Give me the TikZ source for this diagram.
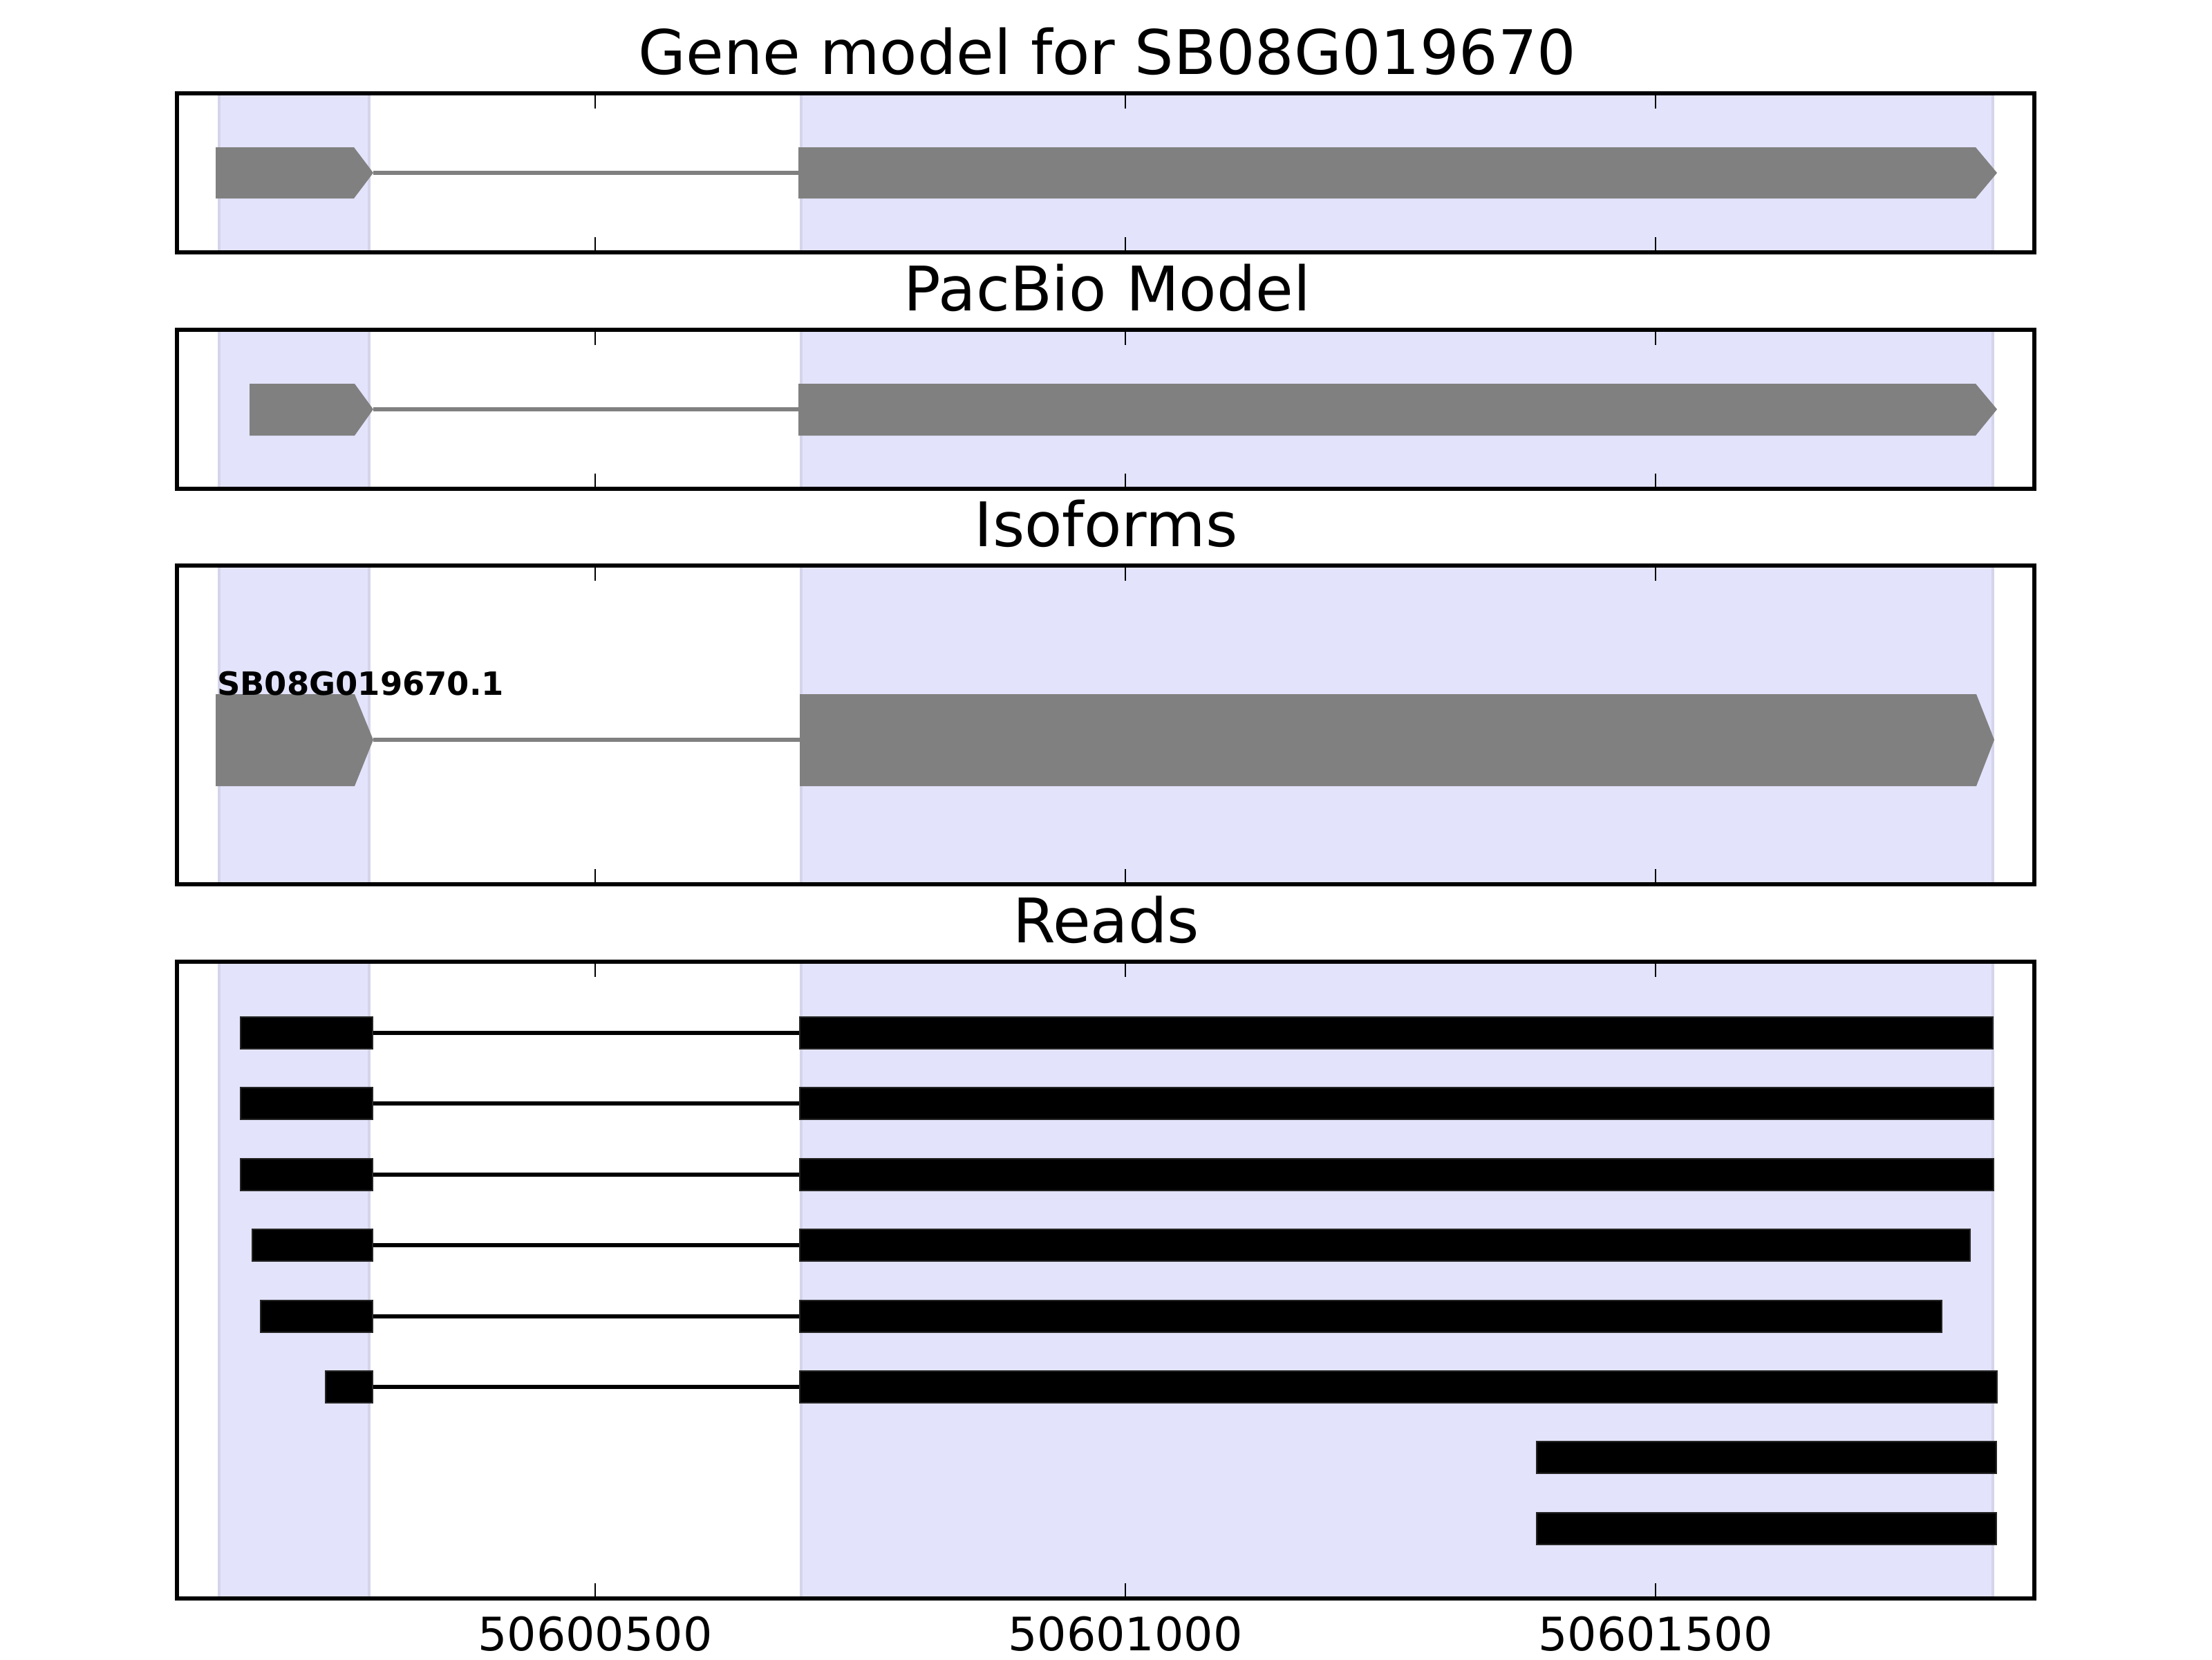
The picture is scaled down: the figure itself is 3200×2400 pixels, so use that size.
\documentclass[tikz,border=0pt]{standalone}
\usepackage{fontspec}
\setmainfont{DejaVu Sans}
\definecolor{bandcol}{RGB}{227,227,252}
\definecolor{bandedge}{RGB}{212,212,234}
\definecolor{genegray}{RGB}{128,128,128}
\newcommand\geneexon[6]{% x1, xflat, xtip, ytop, ybot, ymid
  \fill[exon] (#1,#4) -- (#2,#4) -- (#3,#6) -- (#2,#5) -- (#1,#5) -- cycle;}
\begin{document}
\begin{tikzpicture}[x=0.18pt,y=-0.18pt,
  frame/.style={draw=black,line width=1pt},
  bandfill/.style={fill=bandcol,draw=bandedge,line width=0.6pt},
  exon/.style={fill=genegray},
  intron/.style={draw=genegray,line width=1pt},
  readbar/.style={fill=black,draw=black!85,line width=0.3pt},
  readline/.style={draw=black,line width=1pt},
  tickmark/.style={draw=black,line width=0.5pt},
  paneltitle/.style={anchor=base,inner sep=0pt,font=\fontsize{16}{19}\selectfont},
  ticklabel/.style={anchor=base,inner sep=0pt,font=\fontsize{12}{14}\selectfont},
  isolabel/.style={anchor=base west,inner sep=0pt,font=\fontsize{8.35}{10}\selectfont\bfseries}]
\useasboundingbox[fill=white] (0,0) rectangle (3200,2400);

% shaded exon bands in every panel
\foreach \t/\b in {135/365, 477/707, 818/1279, 1391/2312}{
  \path[bandfill] (317,\t) rectangle (534,\b);
  \path[bandfill] (1159,\t) rectangle (2883,\b);
}

% panel 1: gene model
\draw[intron] (540,250) -- (1155,250);
\geneexon{312}{512}{540}{213}{287}{250}
\geneexon{1155}{2858}{2889}{213}{287}{250}

% panel 2: PacBio model
\draw[intron] (540,592) -- (1155,592);
\geneexon{361}{513}{540}{555}{630}{592}
\geneexon{1155}{2858}{2889}{555}{630}{592}

% panel 3: isoforms
\draw[intron] (540,1070) -- (1157,1070);
\geneexon{312}{513}{540}{1004}{1137}{1070}
\geneexon{1157}{2859}{2885}{1004}{1137}{1070}
\node[isolabel] (iso1) at (313,1005) {SB08G019670.1};

% panel 4: reads
\foreach \y/\s/\e in {1494/348/2883, 1596/348/2884, 1699/348/2884, 1801/365/2850, 1904/377/2809, 2006/471/2889}{
  \draw[readline] (539,\y) -- (1157,\y);
  \path[readbar] (\s,\y-23) rectangle (539,\y+23);
  \path[readbar] (1157,\y-23) rectangle (\e,\y+23);
}
\foreach \y in {2108, 2211}{
  \path[readbar] (2223,\y-23) rectangle (2888,\y+23);
}

% frames and ticks
\foreach \t/\b in {135/365, 477/707, 818/1279, 1391/2312}{
  \foreach \x in {861,1628,2395}{
    \draw[tickmark] (\x,\t) -- (\x,\t+22);
    \draw[tickmark] (\x,\b) -- (\x,\b-22);
  }
  \draw[frame] (256,\t) rectangle (2943,\b);
}

% titles
\node[paneltitle] (t1) at (1602,107) {Gene model for SB08G019670};
\node[paneltitle] (t2) at (1602,449) {PacBio Model};
\node[paneltitle] (t3) at (1600,790) {Isoforms};
\node[paneltitle] (t4) at (1600,1363) {Reads};

% tick labels
\node[ticklabel] (l1) at (861,2387) {50600500};
\node[ticklabel] (l2) at (1628,2387) {50601000};
\node[ticklabel] (l3) at (2395,2387) {50601500};
\end{tikzpicture}
\end{document}
